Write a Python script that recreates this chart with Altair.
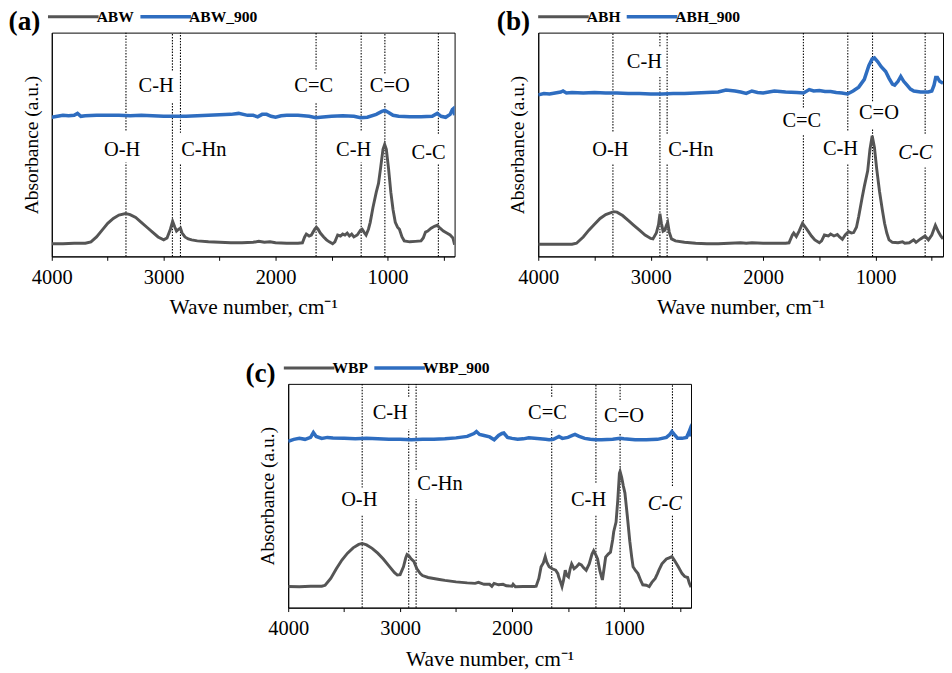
import altair as alt
import pandas as pd

FONT = "Liberation Serif"
GREY = "#555555"
BLUE = "#2e6dc0"
H = 230

# ---------- panel (a) ----------
ABW = [(4000,13),(3900,13),(3800,13.5),(3700,13.5),(3650,15),(3600,20),(3550,27),(3500,34),(3450,39),
       (3400,42.5),(3340,44),(3300,43),(3250,40),(3200,35),(3150,30),(3100,25),(3050,20),(3000,17),
       (2970,19),(2940,28),(2920,36),(2900,30),(2885,26),(2865,28),(2850,29),(2835,24),(2810,20),
       (2780,18),(2750,17),(2700,16),(2600,15),(2500,14.5),(2400,14),(2300,14),(2200,14.5),(2150,15.5),
       (2100,14.5),(2050,15),(2000,14),(1900,13.5),(1800,13.5),(1760,14),(1740,20),(1725,23),(1700,21),
       (1680,22),(1650,28),(1635,30),(1620,28),(1600,24),(1570,20),(1545,17),(1520,15),(1490,13),
       (1470,15),(1445,22),(1420,21),(1400,23),(1380,22),(1360,24),(1340,21),(1320,23),(1300,20),
       (1270,22),(1240,27),(1226,28),(1210,25),(1191,22),(1170,28),(1154,35),(1130,50),(1100,66),
       (1080,75),(1060,92),(1040,110),(1025,115),(1010,110),(990,90),(970,66),(950,48),(930,35),
       (910,30),(893,28),(870,20),(850,16),(800,15),(750,15.5),(700,16),(680,19),(660,25),(640,26),
       (610,29),(580,31),(555,32),(530,29),(500,26),(470,24),(440,22),(415,19),(400,12)]
ABW_900 = [(4000,143),(3950,144),(3900,145),(3850,144.5),(3800,145),(3770,147),(3740,144),(3700,144.5),
           (3600,145),(3500,145),(3400,145),(3300,144.5),(3200,145),(3100,144.5),(3000,144),(2900,144),
           (2800,144),(2700,144.5),(2600,145),(2500,145.5),(2400,146),(2330,147),(2250,145),(2200,145),
           (2160,143.5),(2120,146),(2080,146),(2040,144),(2000,143),(1950,144.5),(1900,145),(1800,145),
           (1700,144),(1640,142.5),(1600,143),(1500,144),(1400,144.5),(1300,144),(1240,142.5),(1180,143),
           (1100,146),(1050,149),(1023,150),(990,148),(950,145),(900,144),(800,143.5),(700,143.5),
           (600,144),(555,147),(520,144),(480,143),(440,146),(420,151),(410,152),(400,145)]
RULES_A = [(3337,129.5,230),(3337,0,96.5),(2922,191,230),(2922,0,158.5),(2850,127,230),(2850,0,94.5),
           (1638,192,230),(1638,0,158.5),(1235,129.5,230),(1235,0,96.5),(1023,188,230),(1023,0,158.5),
           (545,126,230),(545,0,94.5)]
LABELS_A = [("C-H",3067,174.5,0),("O-H",3371,109.5,0),("C-Hn",2641,109.5,0),("C=C",1659,174.5,0),
            ("C=O",980,174.5,0),("C-H",1302,109.5,0),("C-C",632,106,0)]

# ---------- panel (b) ----------
ABH = [(4000,12.5),(3900,12.5),(3800,12.5),(3700,12.5),(3660,13.5),(3600,20),(3550,27),(3500,33),
       (3450,39),(3400,43),(3330,46),(3300,45.5),(3250,42),(3200,37),(3150,32),(3100,27),(3050,22),
       (3000,18.5),(2980,18),(2950,24),(2930,33),(2918,44),(2905,34),(2890,26),(2875,27),(2860,32),
       (2849,35),(2835,25),(2815,18),(2780,16),(2700,14.5),(2600,13.5),(2500,13),(2400,13),(2300,13.5),
       (2200,14),(2150,13.5),(2100,14),(2000,13.5),(1900,13.5),(1800,13.5),(1770,14),(1740,22),
       (1728,24),(1705,20.5),(1680,26),(1650,34),(1630,31),(1600,26),(1570,21),(1540,17),(1500,14),
       (1480,16),(1455,22),(1420,21),(1400,23),(1370,21),(1340,22.5),(1320,20),(1295,17.5),(1270,22),
       (1240,25.5),(1215,24),(1195,24.5),(1170,30),(1150,41),(1120,60),(1100,72),(1070,88),(1050,110),
       (1030,124),(1010,112),(990,90),(965,67),(940,48),(920,34),(900,24),(880,17),(850,14.5),(800,14),
       (760,15),(740,13.5),(700,14),(661,17),(640,14.5),(600,18),(560,21),(530,17),(500,22),(468,32),
       (440,25),(420,21),(400,18)]
ABH_900 = [(4000,166),(3950,167.5),(3900,167),(3850,168),(3800,169),(3780,170),(3750,168),(3700,168.5),
           (3600,168),(3500,168.5),(3400,168),(3300,168),(3200,167.5),(3100,167.5),(3000,167),(2900,167),
           (2800,167.5),(2700,167.5),(2600,168),(2500,168.5),(2400,169),(2330,171),(2250,170),(2200,169),
           (2150,167.5),(2100,170),(2050,168.5),(2000,168),(1950,169),(1900,170),(1850,169.5),(1800,169),
           (1700,168.5),(1640,168),(1590,171.5),(1550,170),(1500,170.5),(1450,169.5),(1400,169.5),
           (1350,168.5),(1300,168),(1250,167),(1200,170),(1150,174),(1100,182),(1060,196),(1030,203),
           (1010,204),(980,200),(950,195),(910,190),(880,183),(850,177),(830,176),(800,180),(776,185),
           (750,180),(720,176),(690,172),(660,170),(600,169),(531,169),(500,170),(480,176),(465,184),
           (450,184),(430,180),(400,178)]
RULES_B = [(3336,128.5,230),(3336,0,96),(2918,216,230),(2918,0,184.5),(2854,126,230),(2854,0,94.5),
           (1642,153,230),(1642,0,124.5),(1247,129.5,230),(1247,0,96),(1027,159.5,230),(1027,0,131),
           (559,126,230),(559,0,93)]
LABELS_B = [("C-H",3056,199.5,0),("O-H",3359,109.5,0),("C-Hn",2643,109.5,0),("C=C",1656,139.5,0),
            ("C-H",1312,110.5,0),("C=O",970,147,0),("C-C",646,106,1)]

# ---------- panel (c) ----------
WBP = [(4000,21.7),(3900,21.5),(3800,22),(3700,22),(3670,23),(3620,30),(3570,40),(3520,49),(3470,56),
       (3420,61.5),(3370,65),(3339,66),(3300,64.5),(3250,61),(3200,56),(3150,50),(3100,43),(3050,36),
       (3025,33.5),(3000,34),(2970,42),(2950,51),(2938,54.5),(2920,53),(2900,50),(2877,47.5),(2850,40),
       (2820,35),(2800,33),(2750,31),(2700,30),(2649,29),(2600,28),(2500,26.5),(2400,25.5),(2330,25),
       (2300,26),(2250,24),(2200,24),(2180,22),(2160,25),(2120,23.5),(2080,24),(2050,22.5),(2000,22),
       (1990,24),(1970,21.5),(1900,21.7),(1800,21.7),(1784,22),(1760,30),(1740,42),(1720,46),(1703,52.5),
       (1690,47),(1668,42),(1640,40),(1610,38.5),(1590,35),(1582,31.5),(1565,26),(1553,21.7),(1540,28),
       (1524,38.5),(1510,33),(1495,31.5),(1480,40),(1467,45),(1445,40),(1423,42),(1400,45),(1380,44),
       (1360,41),(1337,38.5),(1310,45),(1285,55),(1270,58.5),(1250,54),(1235,50),(1215,38),(1192,28.5),
       (1175,42),(1163,52),(1140,55),(1120,57),(1100,70),(1091,78),(1070,88),(1055,110),(1040,138),
       (1034,140),(1020,134),(1005,125),(991,118),(970,95),(947,68),(930,52),(918,42),(895,38),(874,35),
       (850,28),(831,23.5),(800,23),(774,21.7),(750,26),(720,30),(700,35),(687,38.5),(660,45),(620,50),
       (600,51),(571,52.5),(550,49),(514,42),(480,35),(456,32),(430,31),(415,25),(400,21)]
WBP_900 = [(4000,171),(3950,173),(3900,174),(3850,173),(3800,175),(3775,180),(3750,176),(3700,174),
           (3650,175),(3600,174.5),(3500,174),(3400,173.5),(3300,174),(3200,173.5),(3100,173),(3000,173),
           (2900,172.5),(2800,173),(2700,173),(2600,173.5),(2500,174.5),(2400,176),(2340,179),(2318,181),
           (2290,178),(2250,177),(2200,175.5),(2159,172.5),(2120,177),(2090,179),(2073,179.5),(2040,175),
           (2000,174),(1950,173),(1900,173.5),(1850,174.5),(1800,174),(1750,173.5),(1700,173),(1668,172.5),
           (1630,173),(1580,176),(1550,174),(1500,175),(1460,177),(1437,178),(1400,176),(1350,174),
           (1300,173),(1250,172.5),(1200,172.5),(1100,173),(1034,174),(1000,173.5),(900,172.5),(800,172.5),
           (700,173),(620,175),(590,178),(571,181),(550,178),(520,174),(480,174),(440,175),(420,180),
           (410,183),(400,176)]
RULES_C = [(3339,123.4,230),(3339,0,95),(2923,216.7,230),(2923,0,183.4),(2857,141.7,230),(2857,0,111.7),
           (1645,216.7,230),(1645,0,183.4),(1250,128.4,230),(1250,0,95),(1034,213.4,230),(1034,0,180),
           (566,125,230),(566,0,95)]
LABELS_C = [("C-H",3088,200,0),("O-H",3365,110,0),("C-Hn",2644,126.7,0),("C=C",1683,200,0),
            ("C=O",999,196.7,0),("C-H",1316,110,0),("C-C",634,106,1)]

X_TICKS = [4000, 3500, 3000, 2500, 2000, 1500, 1000, 500]


def x_enc(field):
    return alt.X(field, type="quantitative", scale=alt.Scale(domain=[4000, 400], nice=False, zero=False),
                 axis=alt.Axis(values=X_TICKS, format="d",
                               labelExpr="datum.value % 1000 == 0 ? datum.label : ''",
                               title="Wave number, cm\u207b\u00b9", titleFont=FONT, titleFontSize=22,
                               titleFontWeight="normal", titleColor="black", titlePadding=10,
                               labelFont=FONT, labelFontSize=21, labelColor="black", labelPadding=7,
                               labelFlush=False, labelOverlap=False, tickSize=4, tickColor="black",
                               domainColor="black", grid=False))


def y_enc(field):
    return alt.Y(field, type="quantitative", scale=alt.Scale(domain=[0, H], nice=False, zero=False),
                 axis=alt.Axis(title="Absorbance (a.u.)", labels=False, ticks=False, grid=False,
                               domainColor="black", titleFont=FONT, titleFontSize=20,
                               titleFontWeight="normal", titleColor="black", titlePadding=11))


def panel(letter, names, grey, blue, rules, labels, width, legend_x):
    g = pd.DataFrame(grey, columns=["wn", "val"]); g["series"] = names[0]
    b = pd.DataFrame(blue, columns=["wn", "val"]); b["series"] = names[1]
    lines_df = pd.concat([g, b], ignore_index=True)
    rules_df = pd.DataFrame(rules, columns=["wn", "y1", "y2"])
    lab_df = pd.DataFrame(labels, columns=["label", "wn", "y", "italic"])

    rule_layer = alt.Chart(rules_df).mark_rule(color="black", strokeWidth=1.1, strokeDash=[1.5, 1.5]).encode(
        x=x_enc("wn"), y=y_enc("y1"), y2="y2")
    line_layer = alt.Chart(lines_df).mark_line(clip=True).encode(
        x=x_enc("wn"), y=y_enc("val"),
        strokeWidth=alt.StrokeWidth("series:N", scale=alt.Scale(domain=names, range=[3, 3.6]), legend=None),
        color=alt.Color("series:N", scale=alt.Scale(domain=names, range=[GREY, BLUE]),
                        legend=alt.Legend(orient="none", legendX=legend_x, legendY=-24.3,
                                          direction="horizontal", title=letter, titleOrient="left",
                                          titleAnchor="start",
                                          titleFont=FONT, titleFontSize=28, titleFontWeight="bold",
                                          titleColor="black", titlePadding=25.5,
                                          labelFont=FONT, labelFontSize=16, labelFontWeight="bold",
                                          labelColor="black", labelOffset=16, columnPadding=-2,
                                          symbolType="M-5.2,0H5.2", symbolSize=100, symbolStrokeWidth=3.5,
                                          padding=0)))
    txt_up = alt.Chart(lab_df).transform_filter("datum.italic == 0").mark_text(
        font=FONT, fontSize=21, color="black", baseline="middle", align="center").encode(
        x=x_enc("wn"), y=y_enc("y"), text="label:N")
    txt_it = alt.Chart(lab_df).transform_filter("datum.italic == 1").mark_text(
        font=FONT, fontSize=21, color="black", baseline="middle", align="center", fontStyle="italic").encode(
        x=x_enc("wn"), y=y_enc("y"), text="label:N")
    return alt.layer(rule_layer, line_layer, txt_up, txt_it).properties(width=width, height=H)


pa = panel("(a)", ["ABW", "ABW_900"], ABW, ABW_900, RULES_A, LABELS_A, 414, -44.4)
pb = panel("(b)", ["ABH", "ABH_900"], ABH, ABH_900, RULES_B, LABELS_B, 416, -42.6)
pc = panel("(c)", ["WBP", "WBP_900"], WBP, WBP_900, RULES_C, LABELS_C, 414, -44)

spacer = alt.Chart(pd.DataFrame({"a": [0]})).mark_rule(opacity=0).encode(
    x=alt.value(1), y=alt.value(0), y2=alt.value(1)).properties(
    width=198, height=10, view=alt.ViewBackground(strokeOpacity=0))

top = alt.hconcat(pa, pb, spacing=41).resolve_scale(color="independent", strokeWidth="independent").resolve_legend(color="independent")
bottom = alt.hconcat(spacer, pc, spacing=0).resolve_scale(color="independent", strokeWidth="independent").resolve_legend(color="independent")
chart = alt.vconcat(top, bottom, spacing=42).resolve_scale(color="independent", strokeWidth="independent").resolve_legend(
    color="independent").properties(
    padding={"top": -9, "left": 0, "right": 0, "bottom": 0}, background="white").configure_view(
    stroke="black", strokeWidth=1)

chart.save("out.html", embed_options={"renderer": "svg", "actions": False})
